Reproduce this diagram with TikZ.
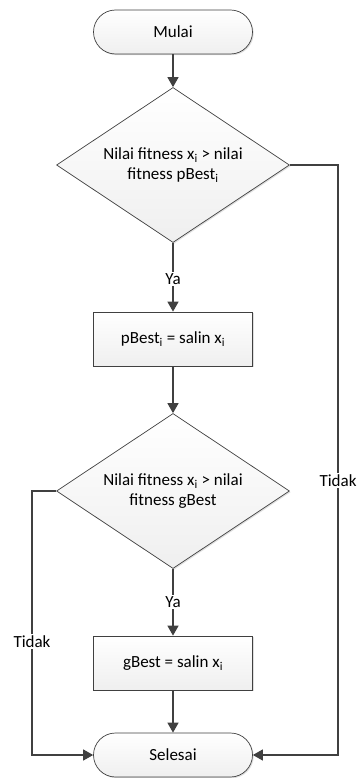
\documentclass[tikz,border=0pt]{standalone}
\usepackage{fontspec}
\setmainfont{Carlito}
\usetikzlibrary{arrows.meta,shapes.geometric,shadows}
\definecolor{lc}{HTML}{404040}
\definecolor{fl}{HTML}{EFEFEF}
\tikzset{
  txt/.style={font=\fontsize{17}{20}\selectfont},
  base/.style={draw=lc, line width=0.7pt, txt, align=center,
    top color=white, bottom color=fl, drop shadow={shadow xshift=1.2pt, shadow yshift=-1.2pt, fill=black!25}},
  term/.style={base, rounded corners=22pt, minimum width=159pt, minimum height=44pt},
  proc/.style={base, minimum width=159pt, minimum height=54pt},
  dec/.style={base, diamond, aspect=1.5, minimum width=233pt, minimum height=155pt, inner sep=0pt},
  conn/.style={draw=lc, line width=1.4pt, -{Triangle[length=10pt,width=11pt]}},
  lbl/.style={fill=white, inner sep=1.5pt, txt}
}
\begin{document}
\begin{tikzpicture}[x=1pt,y=-1pt]
\useasboundingbox (0,0) rectangle (356,778);
\node[term] (start) at (173,32) {Mulai};
\node[dec] (d1) at (173,165) {Nilai fitness x\textsubscript{i} > nilai\\fitness pBest\textsubscript{i}};
\node[proc] (p1) at (173,339) {pBest\textsubscript{i} = salin x\textsubscript{i}};
\node[dec] (d2) at (173,491) {Nilai fitness x\textsubscript{i} > nilai\\fitness gBest};
\node[proc] (p2) at (173,663) {gBest = salin x\textsubscript{i}};
\node[term] (end) at (173,755) {Selesai};
\coordinate (r1) at (338,165);
\coordinate (r2) at (338,755);
\coordinate (l1) at (32,491);
\coordinate (l2) at (32,755);
\draw[conn] (start) -- (d1);
\draw[conn] (d1) -- node[lbl, pos=0.52] (ya1) {Ya} (p1);
\draw[conn] (p1) -- (d2);
\draw[conn] (d2) -- node[lbl, pos=0.5] (ya2) {Ya} (p2);
\draw[conn] (p2) -- (end);
\draw[conn] (d1.east) -- (r1) -- node[lbl, pos=0.535] (no1) {Tidak} (r2) -- (end.east);
\draw[conn] (d2.west) -- (l1) -- node[lbl, pos=0.57] (no2) {Tidak} (l2) -- (end.west);
\end{tikzpicture}
\end{document}
